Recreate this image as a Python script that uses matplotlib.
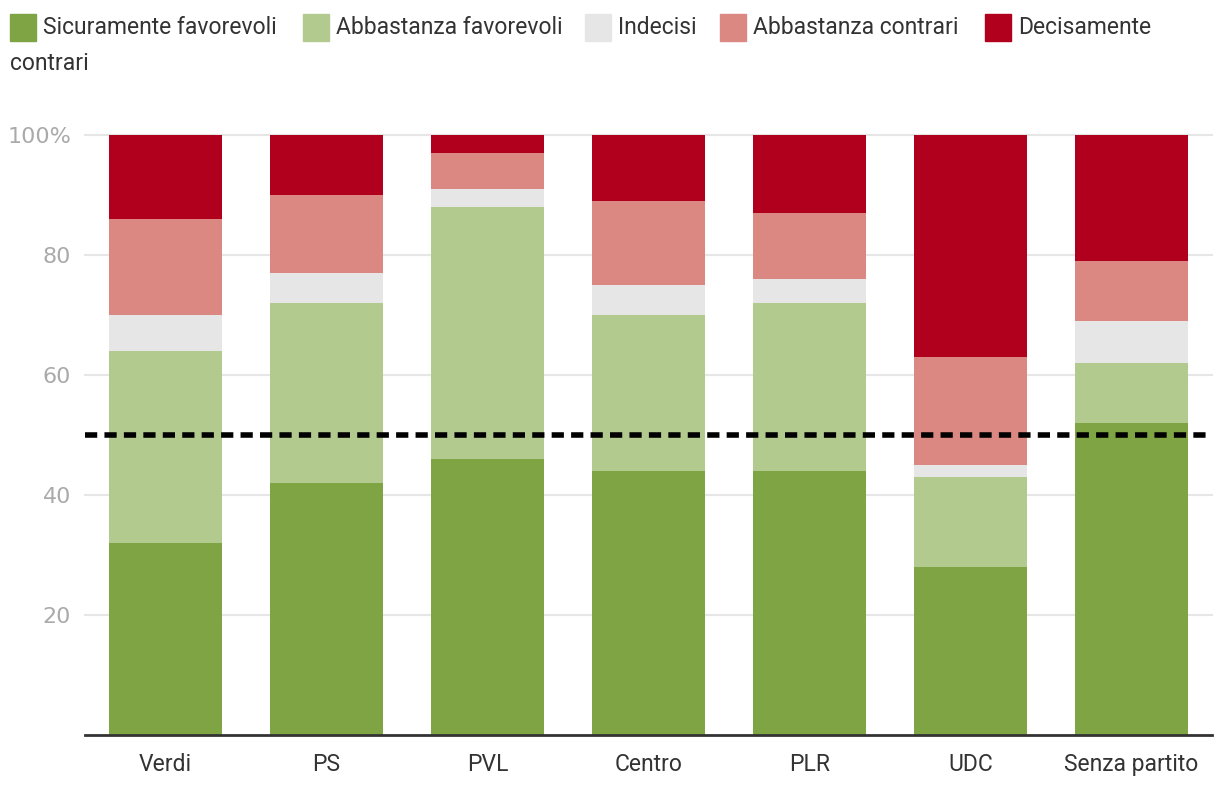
import matplotlib.pyplot as plt
import numpy as np
from matplotlib.patches import Rectangle

partiti = ['Verdi', 'PS', 'PVL', 'Centro', 'PLR', 'UDC', 'Senza partito']
serie = ['Sicuramente favorevoli', 'Abbastanza favorevoli', 'Indecisi',
         'Abbastanza contrari', 'Decisamente contrari']
sicuramente = [32, 42, 46, 44, 44, 28, 52]
abbastanza_fav = [32, 30, 42, 26, 28, 15, 10]
indecisi = [6, 5, 3, 5, 4, 2, 7]
abbastanza_contr = [16, 13, 6, 14, 11, 18, 10]
decisamente = [14, 10, 3, 11, 13, 37, 21]
colori = ['#7fa443', '#b3ca8f', '#e6e6e6', '#db8782', '#b0001e']

fig = plt.figure(figsize=(12.2, 7.92), dpi=100)
ax = fig.add_axes([85/1220, 57/792, (1212-85)/1220, 600/792])

x = np.arange(len(partiti))
base = np.zeros(len(partiti))
for vals, col in zip([sicuramente, abbastanza_fav, indecisi, abbastanza_contr, decisamente], colori):
    ax.bar(x, vals, width=0.7, bottom=base, color=col, zorder=2)
    base += np.array(vals)

ax.axhline(50, color='black', lw=4, ls=(0, (2.2, 1.3)), zorder=3)

ax.set_xlim(-0.5, len(partiti) - 0.5)
ax.set_ylim(0, 100)
ax.set_yticks([20, 40, 60, 80, 100])
ax.set_yticklabels(['20', '40', '60', '80', '100%'])
ax.grid(axis='y', color='#e6e6e6', lw=1.5, zorder=0)
for gl in ax.get_ygridlines():
    gl.set_clip_on(False)
ax.tick_params(axis='y', length=0, labelsize=16, labelcolor='#aaaaaa', pad=10)
ax.tick_params(axis='x', length=0, pad=13)
ax.set_xticks(x)
ax.set_xticklabels(partiti, fontsize=16.5, color='#333333', family='Roboto')
for s in ['top', 'right', 'left']:
    ax.spines[s].set_visible(False)
ax.spines['bottom'].set_color('#333333')
ax.spines['bottom'].set_linewidth(2)
ax.spines['bottom'].set_zorder(4)

# legenda a capo come nell'originale
leg_x = [10, 303, 585, 720, 985]
etichette = ['Sicuramente favorevoli', 'Abbastanza favorevoli', 'Indecisi',
             'Abbastanza contrari', 'Decisamente']
for lx, lab, col in zip(leg_x, etichette, colori):
    fig.patches.append(Rectangle((lx/1220, 1 - 41/792), 26/1220, 27/792,
                                 transform=fig.transFigure, color=col))
    fig.text((lx + 33)/1220, 1 - 28/792, lab, fontsize=16.5, color='#333333',
             family='Roboto', va='center', ha='left')
fig.text(10/1220, 1 - 63/792, 'contrari', fontsize=16.5, color='#333333',
         family='Roboto', va='center', ha='left')

fig.savefig('out.png', dpi=100)
